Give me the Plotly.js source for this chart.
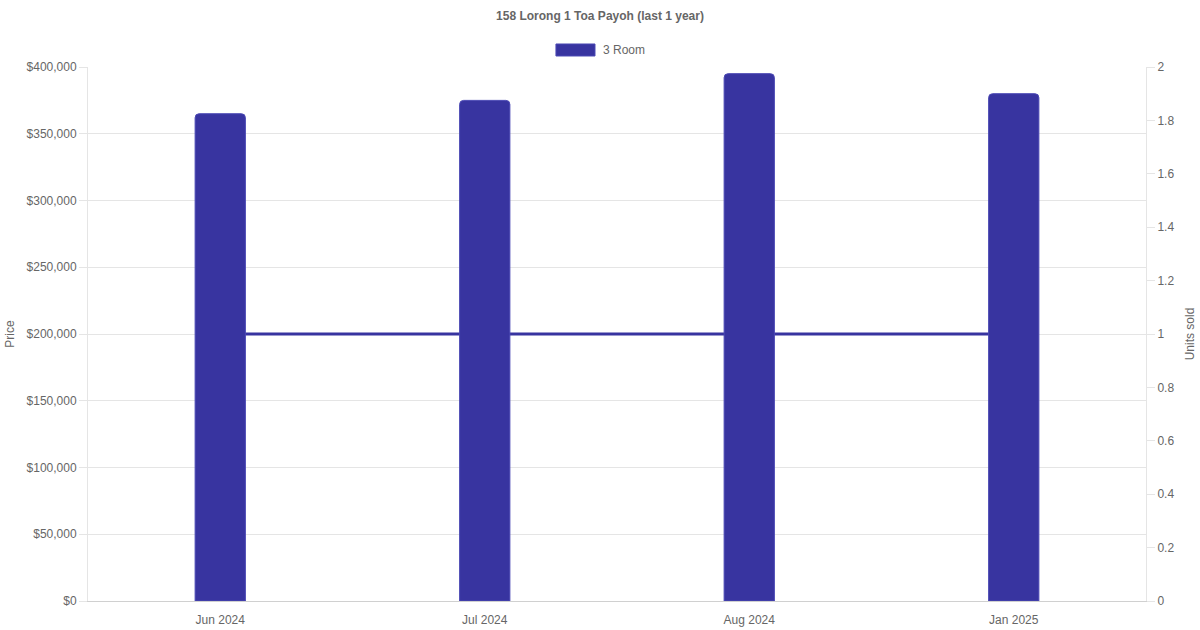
<!DOCTYPE html>
<html>
<head>
<meta charset="utf-8">
<script src="https://cdn.plot.ly/plotly-3.0.1.min.js"></script>
<style>
  html, body { margin: 0; padding: 0; background: #fff; }
  #myDiv { width: 1200px; height: 630px; }
</style>
</head>
<body>
<div id="myDiv"></div>
<script>
var months = ['Jun 2024', 'Jul 2024', 'Aug 2024', 'Jan 2025'];
var prices = [365000, 375000, 395000, 380000];
var unitsSold = [1, 1, 1, 1];

var barColor = '#3834a0';

// units sold line sits on the primary axis so it is drawn behind the bars
var unitsTrace = {
  x: months,
  y: unitsSold,
  name: 'Units sold',
  type: 'scatter',
  mode: 'lines',
  line: { color: barColor, width: 3 },
  yaxis: 'y',
  showlegend: false,
  hoverinfo: 'skip'
};

var priceTrace = {
  x: months,
  y: prices,
  name: '3 Room',
  type: 'bar',
  yaxis: 'y2',
  marker: {
    color: barColor,
    cornerradius: 4,
    line: { color: '#4b48b4', width: 1 }
  },
  showlegend: false
};

var data = [unitsTrace, priceTrace];

var layout = {
  width: 1200,
  height: 630,
  margin: { l: 88, r: 54, t: 67, b: 29 },
  paper_bgcolor: '#fff',
  plot_bgcolor: '#fff',
  font: { family: 'Liberation Sans, Arial, sans-serif', size: 12, color: '#666' },
  title: {
    text: '<b>158 Lorong 1 Toa Payoh (last 1 year)</b>',
    font: { size: 12, color: '#666' },
    x: 0.5,
    xanchor: 'center',
    y: 0.975,
    yanchor: 'middle'
  },
  // chart.js style legend box (wide swatch + label)
  shapes: [
    {
      type: 'rect',
      xref: 'paper',
      yref: 'paper',
      x0: 0.4423,
      x1: 0.4792,
      y0: 1.0206,
      y1: 1.0431,
      fillcolor: barColor,
      line: { color: '#4b48b4', width: 1 }
    }
  ],
  annotations: [
    {
      xref: 'paper',
      yref: 'paper',
      x: 0.4849,
      y: 1.0318,
      xanchor: 'left',
      yanchor: 'middle',
      text: '3 Room',
      showarrow: false,
      font: { size: 12, color: '#666' }
    }
  ],
  bargap: 0.81,
  xaxis: {
    type: 'category',
    showgrid: false,
    showline: true,
    linecolor: '#d0d0d0',
    ticks: 'outside',
    ticklen: 8,
    tickcolor: 'rgba(0,0,0,0)',
    zeroline: false
  },
  yaxis: {
    title: { text: 'Units sold', standoff: 12, font: { size: 12, color: '#666' } },
    side: 'right',
    range: [0, 2],
    dtick: 0.2,
    showgrid: false,
    showline: true,
    linecolor: '#e5e5e5',
    ticks: 'outside',
    ticklen: 8,
    tickcolor: '#e5e5e5',
    zeroline: false
  },
  yaxis2: {
    title: { text: 'Price', standoff: 9, font: { size: 12, color: '#666' } },
    side: 'left',
    overlaying: 'y',
    range: [0, 400000],
    dtick: 50000,
    tickprefix: '$',
    tickformat: ',d',
    showgrid: true,
    gridcolor: '#e5e5e5',
    showline: true,
    linecolor: '#e5e5e5',
    ticks: 'outside',
    ticklen: 8,
    tickcolor: '#e5e5e5',
    zeroline: false
  }
};

Plotly.newPlot('myDiv', data, layout, { displayModeBar: false, staticPlot: true });
</script>
</body>
</html>
